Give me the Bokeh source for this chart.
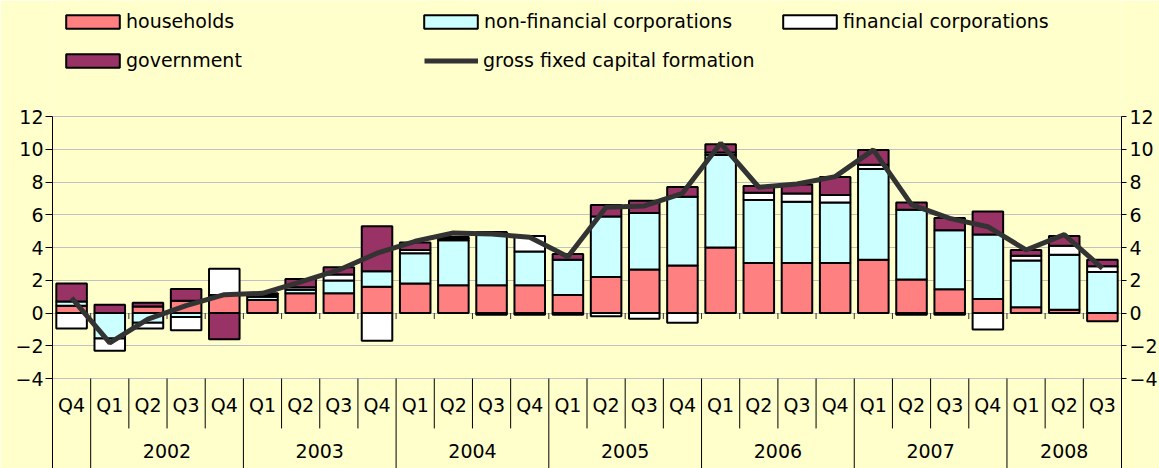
from bokeh.plotting import figure
from bokeh.models import Range1d, FixedTicker, LinearAxis, Legend, LegendItem, Grid, ColumnDataSource
from bokeh.core.properties import value
from bokeh.embed import file_html
from bokeh.resources import INLINE

# ---------------- data ----------------
quarters = ["Q4",
            "Q1", "Q2", "Q3", "Q4",
            "Q1", "Q2", "Q3", "Q4",
            "Q1", "Q2", "Q3", "Q4",
            "Q1", "Q2", "Q3", "Q4",
            "Q1", "Q2", "Q3", "Q4",
            "Q1", "Q2", "Q3", "Q4",
            "Q1", "Q2", "Q3"]
year_labels = ["", "2002", "2003", "2004", "2005", "2006", "2007", "2008"]
year_sizes = [1, 4, 4, 4, 4, 4, 4, 3]

households = [0.45, 0.0, 0.4, 0.75, 1.1, 0.8, 1.2, 1.2, 1.6, 1.8, 1.7, 1.7, 1.7, 1.1,
              2.2, 2.65, 2.9, 4.0, 3.05, 3.05, 3.05, 3.25, 2.05, 1.45, 0.85, 0.35, 0.2, -0.5]
non_financial = [0.25, -1.55, -0.6, -0.25, 0.0, 0.2, 0.22, 0.78, 0.95, 1.85, 2.75, 3.2, 2.05, 2.15,
                 3.7, 3.45, 4.2, 5.65, 3.85, 3.75, 3.7, 5.55, 4.25, 3.6, 3.95, 2.85, 3.35, 2.5]
financial = [-0.95, -0.75, -0.35, -0.8, 1.6, 0.1, 0.15, 0.37, -1.7, 0.2, 0.1, 0.05, 0.95, -0.1,
             -0.2, -0.35, -0.6, 0.15, 0.45, 0.5, 0.45, 0.25, -0.1, -0.1, -1.0, 0.3, 0.55, 0.35]
government = [1.1, 0.5, 0.22, 0.72, -1.6, 0.1, 0.5, 0.45, 2.75, 0.45, 0.1, -0.1, -0.1, 0.35,
              0.7, 0.75, 0.6, 0.5, 0.4, 0.55, 1.1, 0.9, 0.45, 0.75, 1.4, 0.35, 0.6, 0.4]
gfcf = [0.92, -1.83, -0.37, 0.45, 1.12, 1.2, 1.9, 2.63, 3.65, 4.38, 4.89, 4.83, 4.62, 3.44,
        6.46, 6.54, 7.31, 10.37, 7.68, 7.88, 8.33, 9.96, 6.62, 5.78, 5.27, 3.85, 4.79, 2.73]

series_names = ["households", "non-financial corporations", "financial corporations", "government"]
series_values = [households, non_financial, financial, government]
series_colors = ["#FF8080", "#CCFFFF", "#FFFFFF", "#993366"]

# ---------------- layout constants ----------------
FONT = "DejaVu Sans"
BG = "#FFFFCC"
PX_PER_UNIT = 16.375
FRAME_H = 468
AX_TOP, AX_BOT = 12, -4
Y_TOP = AX_TOP + 116 / PX_PER_UNIT
Y_BOT = AX_TOP - (FRAME_H - 116) / PX_PER_UNIT
n = len(quarters)
xs = list(range(n))

p = figure(frame_width=1069, frame_height=FRAME_H,
           x_range=Range1d(-0.5, n - 0.5), y_range=Range1d(Y_BOT, Y_TOP),
           output_backend="svg", toolbar_location=None,
           x_axis_location=None, y_axis_location=None,
           min_border_left=52, min_border_right=38, min_border_top=0, min_border_bottom=0,
           background_fill_color=BG, border_fill_color=BG, outline_line_color=None)
for g in p.grid:
    g.visible = False

ticker = FixedTicker(ticks=list(range(AX_BOT, AX_TOP + 1, 2)))
p.add_layout(Grid(dimension=1, ticker=ticker, grid_line_color="#C0C0C0", grid_line_width=1))

for side, out, standoff in (("left", 7, 2), ("right", 5, 3)):
    ax = LinearAxis(ticker=ticker, bounds=(Y_BOT, AX_TOP),
                    major_tick_in=0, major_tick_out=out,
                    minor_tick_in=0, minor_tick_out=0,
                    axis_line_color="#000000", axis_line_width=1,
                    major_tick_line_color="#000000",
                    major_label_text_font=FONT, major_label_text_font_size="19px",
                    major_label_text_color="#000000", major_label_standoff=standoff)
    p.add_layout(ax, side)

# ---------------- stacked bars (positive and negative stacked separately) ----------------
pos = [0.0] * n
neg = [0.0] * n
bar_renderers = []
for name, vals, col in zip(series_names, series_values, series_colors):
    bottoms, tops = [], []
    for i, v in enumerate(vals):
        if v >= 0:
            bottoms.append(pos[i]); tops.append(pos[i] + v); pos[i] += v
        else:
            bottoms.append(neg[i]); tops.append(neg[i] + v); neg[i] += v
    src = ColumnDataSource(dict(x=xs, bottom=bottoms, top=tops))
    r = p.vbar(x="x", bottom="bottom", top="top", width=0.8, source=src,
               fill_color=col, line_color="#000000", line_width=2)
    bar_renderers.append(r)

# zero-line tick marks at category boundaries
bounds = [i - 0.5 for i in range(n + 1)]
p.segment(x0=bounds, x1=bounds, y0=[0] * len(bounds), y1=[-0.37] * len(bounds),
          line_color="#333333", line_width=1)

# gross fixed capital formation line
line_r = p.line(xs, gfcf, line_color="#333333", line_width=5)

# ---------------- category table below plot ----------------
year_starts = []
acc = 0
for s in year_sizes:
    year_starts.append(acc)
    acc += s
year_bounds = [s - 0.5 for s in year_starts[1:]]
q_bounds = [i - 0.5 for i in range(1, n) if (i - 0.5) not in year_bounds]
p.segment(x0=q_bounds, x1=q_bounds, y0=[AX_BOT] * len(q_bounds), y1=[-7.05] * len(q_bounds),
          line_color="#000000", line_width=1)
p.segment(x0=year_bounds, x1=year_bounds, y0=[AX_BOT] * len(year_bounds),
          y1=[Y_BOT] * len(year_bounds), line_color="#000000", line_width=1)

p.text(x=xs, y=[-5.6] * n, text=quarters, text_align="center", text_baseline="middle",
       text_font=value(FONT), text_font_size="19px", text_color="#000000")
year_centers = [st + (sz - 1) / 2 for st, sz in zip(year_starts, year_sizes)]
p.text(x=year_centers, y=[-8.45] * len(year_centers), text=year_labels, text_align="center",
       text_baseline="middle", text_font=value(FONT), text_font_size="19px", text_color="#000000")

# ---------------- legends ----------------
def make_legend(items, loc, gw, gh, standoff):
    return Legend(items=items, location=loc, orientation="vertical",
                  glyph_width=gw, glyph_height=gh, label_standoff=standoff,
                  label_height=24, spacing=15, padding=0, margin=0,
                  border_line_color=None, background_fill_alpha=0,
                  label_text_font=FONT, label_text_font_size="19px",
                  label_text_color="#000000")

leg1 = make_legend([LegendItem(label=series_names[0], renderers=[bar_renderers[0]]),
                    LegendItem(label=series_names[3], renderers=[bar_renderers[3]])],
                   (7, 396), 67, 17, 0)
leg2 = make_legend([LegendItem(label=series_names[1], renderers=[bar_renderers[1]])],
                   (365, 435), 67, 17, 0)
leg3 = make_legend([LegendItem(label="gross fixed capital formation", renderers=[line_r])],
                   (372, 396), 54, 17, 5)
leg4 = make_legend([LegendItem(label=series_names[2], renderers=[bar_renderers[2]])],
                   (724, 435), 67, 17, 0)
for lg in (leg1, leg2, leg3, leg4):
    p.add_layout(lg)

open("out.html", "w").write(file_html(p, INLINE))
